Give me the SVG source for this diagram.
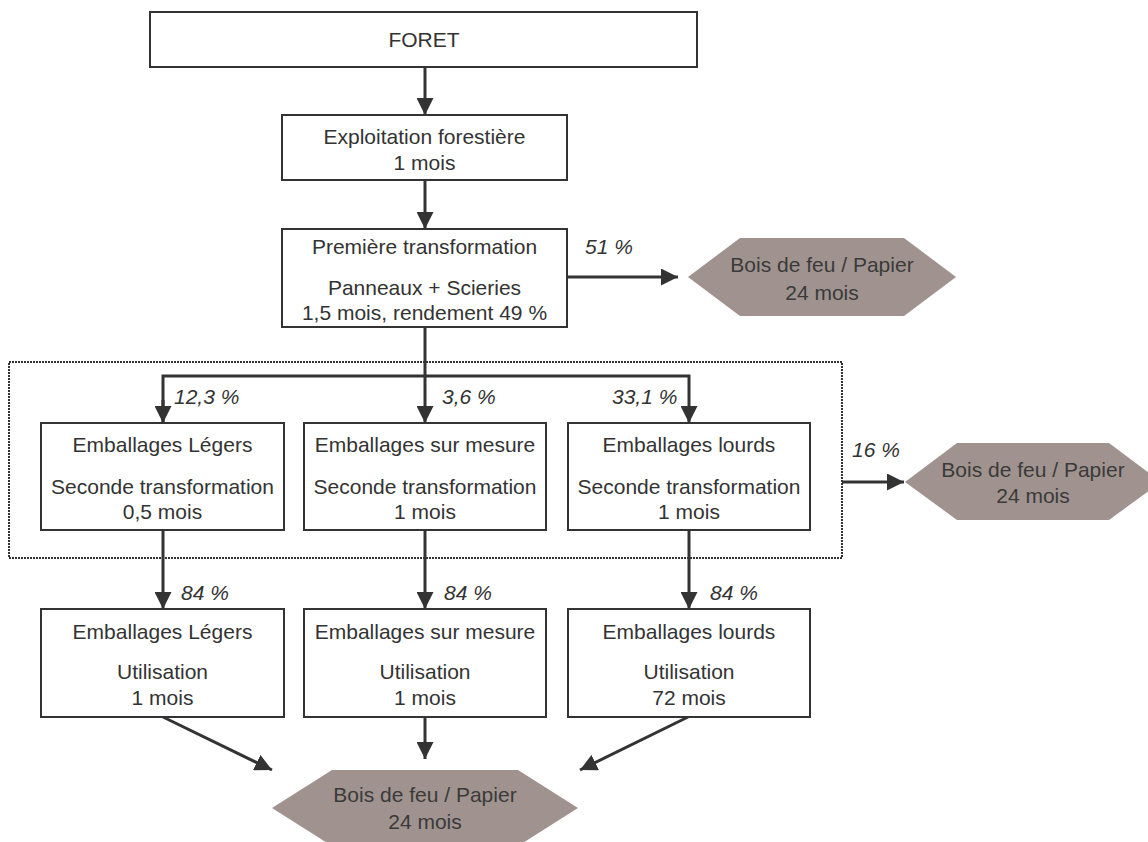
<svg xmlns="http://www.w3.org/2000/svg" width="1148" height="842" viewBox="0 0 1148 842">
<style>
.box{fill:#fff;stroke:#333;stroke-width:2}
.hex{fill:#a0938f;stroke:none}
.t{font-family:"Liberation Sans",Arial,sans-serif;font-size:21px;fill:#333;text-anchor:middle}
.ht{font-family:"Liberation Sans",Arial,sans-serif;font-size:21px;fill:#3a3a3a;text-anchor:middle}
.lbl{font-family:"Liberation Sans",Arial,sans-serif;font-size:21px;font-style:italic;fill:#333}
.c{fill:none;stroke:#333;stroke-width:3}
.dot{fill:none;stroke:#333;stroke-width:2;stroke-dasharray:2 1}
</style>
<defs>
<marker id="ah" viewBox="0 0 16 16" refX="16" refY="8" markerWidth="17" markerHeight="17" markerUnits="userSpaceOnUse" orient="auto">
<path d="M0,0 L16,8 L0,16 z" fill="#333"/>
</marker>
</defs>
<rect id="group-box" class="dot" x="9" y="362" width="833" height="196"/>
<g id="connectors">
<line class="c" x1="425" y1="67" x2="425" y2="115" marker-end="url(#ah)"/>
<line class="c" x1="425" y1="180" x2="425" y2="229" marker-end="url(#ah)"/>
<line class="c" x1="567" y1="277" x2="678" y2="277" marker-end="url(#ah)"/>
<line class="c" x1="425" y1="327" x2="425" y2="423" marker-end="url(#ah)"/>
<polyline class="c" points="163,423 163,376 689,376 689,423" marker-end="url(#ah)"/>
<line class="c" x1="163" y1="400" x2="163" y2="423" marker-end="url(#ah)"/>
<line class="c" x1="842" y1="482" x2="904" y2="482" marker-end="url(#ah)"/>
<line class="c" x1="163" y1="530" x2="163" y2="609" marker-end="url(#ah)"/>
<line class="c" x1="425" y1="530" x2="425" y2="609" marker-end="url(#ah)"/>
<line class="c" x1="689" y1="530" x2="689" y2="609" marker-end="url(#ah)"/>
<line class="c" x1="163" y1="717" x2="272" y2="770" marker-end="url(#ah)"/>
<line class="c" x1="425" y1="717" x2="425" y2="759" marker-end="url(#ah)"/>
<line class="c" x1="688" y1="717" x2="580" y2="770" marker-end="url(#ah)"/>
<text class="lbl" x="585" y="254">51 %</text>
<text class="lbl" x="174" y="404">12,3 %</text>
<text class="lbl" x="442" y="404">3,6 %</text>
<text class="lbl" x="612" y="404">33,1 %</text>
<text class="lbl" x="852" y="457">16 %</text>
<text class="lbl" x="181" y="600">84 %</text>
<text class="lbl" x="444" y="600">84 %</text>
<text class="lbl" x="710" y="600">84 %</text>
</g>
<g id="foret">
<rect class="box" x="150" y="12" width="547" height="55"/>
<text class="t" x="424" y="47">FORET</text>
</g>
<g id="exploitation">
<rect class="box" x="282" y="115" width="285" height="65"/>
<text class="t" x="424.5" y="144">Exploitation forestière</text>
<text class="t" x="424.5" y="170">1 mois</text>
</g>
<g id="premiere">
<rect class="box" x="282" y="229" width="285" height="98"/>
<text class="t" x="424.5" y="254">Première transformation</text>
<text class="t" x="424.5" y="295">Panneaux + Scieries</text>
<text class="t" x="424.5" y="320">1,5 mois, rendement 49 %</text>
</g>
<g id="hex1">
<polygon class="hex" points="688,277 740,238 904,238 956,277 904,316 740,316"/>
<text class="ht" x="822" y="272">Bois de feu / Papier</text>
<text class="ht" x="822" y="300">24 mois</text>
</g>
<g id="legers2">
<rect class="box" x="41" y="423" width="243" height="107"/>
<text class="t" x="162.5" y="452">Emballages Légers</text>
<text class="t" x="162.5" y="494">Seconde transformation</text>
<text class="t" x="162.5" y="519">0,5 mois</text>
</g>
<g id="mesure2">
<rect class="box" x="304" y="423" width="242" height="107"/>
<text class="t" x="425" y="452">Emballages sur mesure</text>
<text class="t" x="425" y="494">Seconde transformation</text>
<text class="t" x="425" y="519">1 mois</text>
</g>
<g id="lourds2">
<rect class="box" x="568" y="423" width="242" height="107"/>
<text class="t" x="689" y="452">Emballages lourds</text>
<text class="t" x="689" y="494">Seconde transformation</text>
<text class="t" x="689" y="519">1 mois</text>
</g>
<g id="hex2">
<polygon class="hex" points="905,482 957,443 1109,443 1161,482 1109,520 957,520"/>
<text class="ht" x="1033" y="477">Bois de feu / Papier</text>
<text class="ht" x="1033" y="503">24 mois</text>
</g>
<g id="legers3">
<rect class="box" x="41" y="609" width="243" height="108"/>
<text class="t" x="162.5" y="639">Emballages Légers</text>
<text class="t" x="162.5" y="679">Utilisation</text>
<text class="t" x="162.5" y="705">1 mois</text>
</g>
<g id="mesure3">
<rect class="box" x="304" y="609" width="242" height="108"/>
<text class="t" x="425" y="639">Emballages sur mesure</text>
<text class="t" x="425" y="679">Utilisation</text>
<text class="t" x="425" y="705">1 mois</text>
</g>
<g id="lourds3">
<rect class="box" x="568" y="609" width="242" height="108"/>
<text class="t" x="689" y="639">Emballages lourds</text>
<text class="t" x="689" y="679">Utilisation</text>
<text class="t" x="689" y="705">72 mois</text>
</g>
<g id="hex3">
<polygon class="hex" points="272,808 332,770 518,770 578,808 518,846 332,846"/>
<text class="ht" x="425" y="802">Bois de feu / Papier</text>
<text class="ht" x="425" y="829">24 mois</text>
</g>
</svg>
